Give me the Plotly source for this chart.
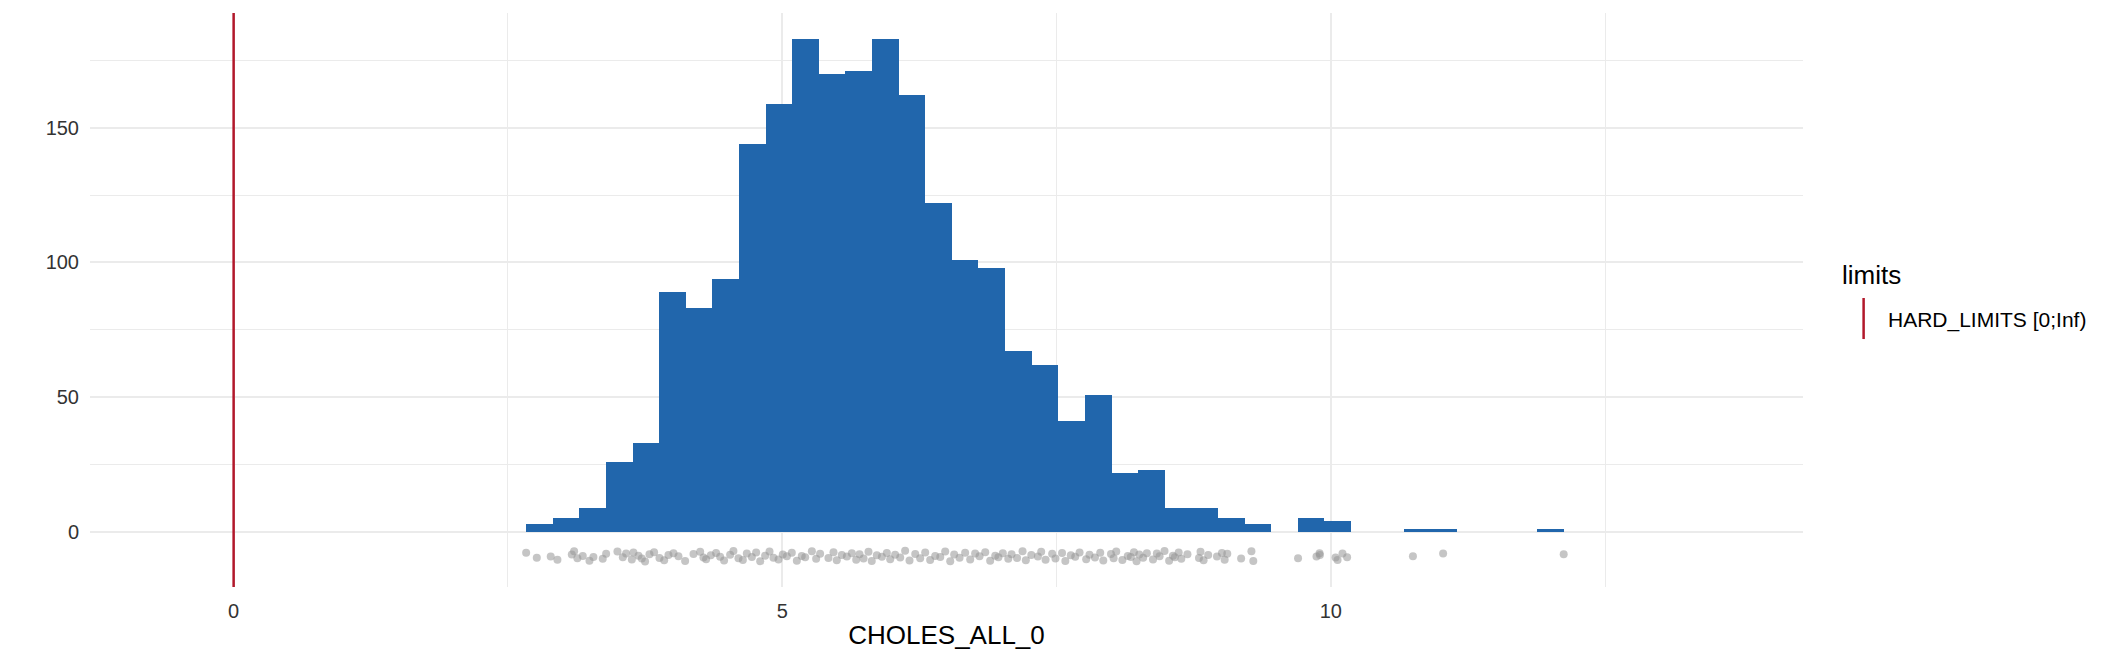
import numpy as np
import plotly.graph_objects as go

# histogram of CHOLES_ALL_0 (counts)
bin_start = 2.666
bin_width = 0.2425
counts = [3, 5, 9, 26, 33, 89, 83, 94, 144, 159, 183, 170, 171, 183, 162, 122,
          101, 98, 67, 62, 41, 51, 22, 23, 9, 9, 5, 3, 0, 5, 4, 0, 0, 1, 1, 0,
          0, 0, 1]

# jittered raw values shown under the histogram
jitter_x = [2.666, 2.763, 2.890, 2.951, 3.082, 3.103, 3.133, 3.182, 3.243, 3.279,
            3.364, 3.395, 3.498, 3.547, 3.577, 3.629, 3.644, 3.690, 3.720, 3.750,
            3.790, 3.832, 3.881, 3.924, 3.963, 4.009, 4.054, 4.115, 4.191, 4.252,
            4.282, 4.306, 4.349, 4.397, 4.434, 4.470, 4.525, 4.555, 4.601, 4.641,
            4.677, 4.723, 4.762, 4.799, 4.844, 4.884, 4.920, 4.966, 5.005, 5.042,
            5.087, 5.133, 5.178, 5.209, 5.270, 5.309, 5.345, 5.421, 5.467, 5.497,
            5.543, 5.589, 5.634, 5.674, 5.704, 5.741, 5.786, 5.816, 5.862, 5.908,
            5.953, 5.984, 6.029, 6.075, 6.120, 6.160, 6.212, 6.257, 6.303, 6.348,
            6.394, 6.440, 6.485, 6.531, 6.567, 6.616, 6.667, 6.713, 6.758, 6.798,
            6.850, 6.895, 6.941, 6.970, 7.010, 7.060, 7.090, 7.140, 7.190, 7.220,
            7.270, 7.330, 7.360, 7.400, 7.460, 7.490, 7.550, 7.580, 7.630, 7.670,
            7.710, 7.770, 7.800, 7.850, 7.898, 7.926, 7.996, 8.020, 8.044, 8.100,
            8.149, 8.177, 8.205, 8.229, 8.254, 8.289, 8.323, 8.379, 8.414, 8.439,
            8.484, 8.526, 8.561, 8.578, 8.613, 8.637, 8.693, 8.798, 8.812, 8.840,
            8.882, 8.962, 9.007, 9.032, 9.056, 9.182, 9.276, 9.293, 9.701, 9.869,
            9.897, 9.900, 10.043, 10.061, 10.106, 10.148, 10.748, 11.023, 12.122]
jitter_y = [-7.7, -9.6, -9.1, -10.3, -8.4, -7.2, -9.8, -8.9, -10.7, -9.3,
            -10.0, -8.1, -7.3, -9.4, -8.0, -10.2, -7.6, -8.8, -9.9, -11.0,
            -8.3, -7.5, -9.7, -10.5, -8.6, -7.9, -9.0, -10.8, -8.2, -7.4,
            -9.5, -10.1, -8.7, -7.8, -9.2, -10.6, -8.5, -7.1, -9.8, -10.4,
            -8.0, -9.3, -7.6, -10.9, -8.8, -7.3, -9.6, -10.2, -8.4, -9.0,
            -7.7, -10.7, -8.9, -9.4, -7.2, -10.0, -8.1, -9.7, -7.5, -10.5,
            -8.6, -9.1, -7.9, -10.3, -8.3, -9.9, -7.4, -10.8, -8.7, -9.2,
            -7.8, -10.1, -8.5, -9.5, -7.0, -10.6, -8.2, -9.8, -7.6, -10.4,
            -8.9, -9.3, -7.3, -10.9, -8.4, -9.6, -7.7, -10.2, -8.0, -9.0,
            -7.5, -10.7, -8.8, -9.4, -7.9, -10.0, -8.3, -9.7, -7.2, -10.5,
            -8.6, -9.1, -7.4, -10.3, -8.1, -9.9, -7.8, -10.8, -8.7, -9.2,
            -7.6, -10.1, -8.5, -9.5, -7.7, -10.6, -8.2, -9.8, -7.3, -10.4,
            -8.9, -9.3, -7.5, -10.9, -8.4, -9.6, -7.9, -10.2, -8.0, -9.0,
            -7.1, -10.7, -8.8, -9.4, -7.6, -10.0, -8.3, -9.7, -7.4, -10.5,
            -8.6, -9.1, -7.8, -10.3, -8.1, -9.9, -7.2, -10.8, -9.8, -9.1,
            -7.9, -8.6, -9.5, -10.4, -8.0, -9.4, -9.0, -8.0, -8.3]

limit_value = 0
limit_label = "HARD_LIMITS [0;Inf)"
x_ticks = [0, 5, 10]
y_ticks = [0, 50, 100, 150]

BAR_COLOR = "#2166AC"
LIMIT_COLOR = "#B2182B"
GRID_COLOR = "#EBEBEB"
FONT = "Liberation Sans, Arial, sans-serif"

# page has an 8px body margin, so the figure is drawn 8px smaller and offset
PAGE_OFF = 8
W, H = 2123 - PAGE_OFF, 662 - PAGE_OFF
# plot area in page pixels
L, R, T, B = 90, 1802.7, 13.3, 586.7


def px_to_paper(px, py):
    return (px - L) / (R - L), (B - py) / (B - T)


centers = bin_start + bin_width * (np.arange(len(counts)) + 0.5)

fig = go.Figure()

fig.add_trace(go.Bar(
    x=centers,
    y=counts,
    width=bin_width,
    marker=dict(color=BAR_COLOR, line=dict(width=0)),
    showlegend=False,
))

fig.add_trace(go.Scatter(
    x=jitter_x,
    y=jitter_y,
    mode="markers",
    marker=dict(color="rgba(150,150,150,0.55)", size=8, line=dict(width=0)),
    showlegend=False,
))

fig.add_vline(x=limit_value, line_color=LIMIT_COLOR, line_width=2.5, layer="above")

# legend drawn by hand so the key can be a vertical line like the original
lx, ly = px_to_paper(1840, 275)
fig.add_annotation(x=lx, y=ly, xref="paper", yref="paper", text="limits",
                   showarrow=False, xanchor="left", yanchor="middle",
                   font=dict(family=FONT, size=26, color="black"))
kx, ky0 = px_to_paper(1863.3, 339)
_, ky1 = px_to_paper(1863.3, 298)
fig.add_shape(type="line", xref="paper", yref="paper", x0=kx, x1=kx, y0=ky0, y1=ky1,
              line=dict(color=LIMIT_COLOR, width=2.5))
tx, ty = px_to_paper(1886, 320)
fig.add_annotation(x=tx, y=ty, xref="paper", yref="paper", text=limit_label,
                   showarrow=False, xanchor="left", yanchor="middle",
                   font=dict(family=FONT, size=21, color="black"))

fig.update_layout(
    width=W,
    height=H,
    margin=dict(l=L - PAGE_OFF, r=W - (R - PAGE_OFF), t=T - PAGE_OFF,
                b=H - (B - PAGE_OFF), autoexpand=False),
    plot_bgcolor="white",
    paper_bgcolor="white",
    bargap=0,
    font=dict(family=FONT, size=20, color="#333333"),
    xaxis=dict(
        range=[-1.309, 14.303],
        tickvals=x_ticks,
        ticktext=[str(v) for v in x_ticks],
        showgrid=True,
        gridcolor=GRID_COLOR,
        gridwidth=1.6,
        zeroline=False,
        showline=False,
        ticks="",
        ticklabelstandoff=10,
        minor=dict(dtick=2.5, showgrid=True, gridcolor=GRID_COLOR, gridwidth=0.8),
        title=dict(text="CHOLES_ALL_0", font=dict(family=FONT, size=26, color="black"),
                   standoff=4),
        automargin=False,
    ),
    yaxis=dict(
        range=[-20.44, 192.6],
        tickvals=y_ticks,
        ticktext=[str(v) for v in y_ticks],
        showgrid=True,
        gridcolor=GRID_COLOR,
        gridwidth=1.6,
        zeroline=False,
        showline=False,
        ticks="",
        ticklabelstandoff=10,
        minor=dict(dtick=25, showgrid=True, gridcolor=GRID_COLOR, gridwidth=0.8),
        automargin=False,
    ),
)

fig.write_html("out.html")
